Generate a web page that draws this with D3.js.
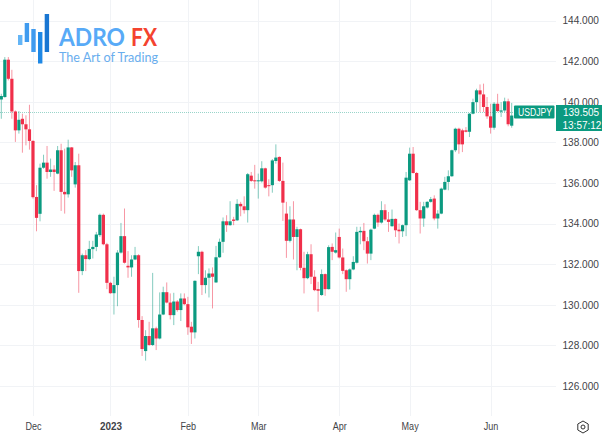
<!DOCTYPE html>
<html><head><meta charset="utf-8">
<style>html,body{margin:0;padding:0;background:#fff}svg{display:block}</style>
<script src="https://cdn.jsdelivr.net/npm/d3@7/dist/d3.min.js"></script>
</head><body><div id="c"></div>
<script>
const priceTicks=[126,128,130,132,134,136,138,140,142,144];
const monthLabels=["Dec","2023","Feb","Mar","Apr","May","Jun"];
const monthIndex=[9,31,53,73,96,116,139];
const symbol="USDJPY", lastPrice=139.505, countdown="13:57:12";
const opens=[140.11,140.23,142.07,141.13,139.52,138.59,139.16,138.89,138.64,138.07,
135.31,134.48,136.75,137.00,136.54,136.66,136.46,137.61,135.56,135.44,
137.75,135.93,136.87,131.66,132.44,132.25,132.74,132.85,133.43,134.43,
132.98,131.08,130.57,130.97,132.57,133.38,131.92,131.84,132.23,132.44,
129.25,127.72,128.46,128.02,128.84,128.34,129.52,130.62,130.11,129.49,
130.16,129.74,130.31,130.03,128.92,128.64,132.39,132.61,130.97,131.33,
131.54,131.10,132.34,133.10,134.11,133.92,134.20,134.16,134.97,134.85,
134.66,136.36,136.13,136.08,136.08,136.72,135.89,135.89,137.08,137.28,
136.10,134.49,133.15,134.20,133.34,133.72,131.82,131.31,132.49,131.38,
130.77,130.48,131.51,130.77,132.85,132.57,133.34,132.33,131.70,131.26,
131.74,132.07,133.57,133.64,133.13,132.52,133.75,134.43,134.05,134.66,
134.20,133.87,134.23,133.70,133.62,133.92,136.13,137.44,136.49,134.66,
134.25,134.79,135.07,135.23,134.25,134.49,135.67,136.05,136.33,137.61,
138.67,138.59,138.59,138.52,139.41,139.98,140.56,140.36,139.74,139.28,
138.72,139.90,139.51,139.57,140.02,138.82];
const closes=[140.28,142.07,141.13,139.52,138.59,139.11,138.89,138.64,138.07,135.30,
134.28,136.75,137.00,136.54,136.66,136.54,137.61,135.56,135.44,137.75,
136.62,136.87,131.66,132.44,132.25,132.75,132.85,133.46,134.43,132.98,
131.08,130.57,130.97,132.57,133.38,132.07,131.84,132.23,132.44,129.25,
127.82,128.46,128.02,128.84,128.34,129.52,130.62,130.11,129.49,130.16,
129.74,130.31,130.03,128.89,128.64,131.18,132.61,130.97,131.33,131.54,
131.38,132.34,133.10,134.11,133.92,134.11,134.13,134.97,134.85,134.66,
136.43,136.10,136.08,136.13,136.72,135.77,135.84,137.11,137.25,136.10,
135.03,133.15,134.20,133.34,133.72,131.82,131.31,132.49,131.38,130.72,
130.69,131.51,130.77,132.84,132.61,132.69,132.33,131.67,131.26,131.74,
132.11,133.59,133.64,133.13,132.52,133.70,134.43,134.05,134.66,134.20,
134.08,134.23,133.67,133.62,133.92,136.26,137.44,136.49,134.66,134.25,
134.85,135.07,135.20,134.25,134.49,135.72,136.05,136.33,137.61,138.67,
137.90,137.90,138.52,139.41,139.98,140.56,140.36,139.74,139.28,138.72,
139.90,139.54,139.57,140.02,138.89,139.32];
const highs=[140.39,142.20,142.20,141.57,139.57,139.54,139.41,139.33,139.85,138.10,
135.89,136.95,137.39,137.82,137.20,136.87,137.82,137.93,137.69,138.13,
137.77,137.03,137.44,132.52,132.69,133.15,133.15,133.59,134.49,134.49,
133.05,131.13,131.38,132.69,134.03,134.74,132.64,132.44,132.85,132.49,
129.44,128.75,129.16,131.57,128.92,130.61,130.89,131.10,130.56,130.59,
130.23,130.56,130.56,130.39,129.16,131.20,132.89,132.66,131.70,131.79,
131.84,132.90,133.26,134.30,134.41,135.10,134.33,135.20,135.07,135.34,
136.49,136.54,136.89,136.46,137.07,136.75,136.18,137.18,137.90,137.31,
137.00,135.07,134.85,135.10,133.84,133.75,132.61,132.61,132.98,131.70,
131.13,131.74,131.54,132.93,133.02,133.56,133.75,132.77,131.74,131.79,
132.39,133.84,133.84,134.03,133.34,133.75,134.49,134.49,135.10,134.95,
134.57,134.69,134.25,134.00,133.95,136.54,137.74,137.77,136.54,135.07,
135.07,135.10,135.31,135.39,134.66,135.77,136.30,136.62,137.64,138.72,
138.72,138.67,138.75,139.44,140.15,140.64,140.85,140.89,140.23,139.90,
139.98,140.39,139.98,140.20,140.15,139.94];
const lows=[139.16,140.20,141.05,139.16,138.02,138.43,137.49,137.85,137.64,135.23,
133.62,134.11,136.70,136.21,136.30,135.61,136.43,134.62,134.49,135.28,
136.30,135.77,130.59,131.46,131.66,132.20,132.28,132.64,133.34,132.93,
130.77,130.54,129.52,129.93,132.52,132.03,131.33,131.38,132.20,128.87,
127.48,127.25,127.98,127.97,127.77,128.30,129.49,130.07,129.28,129.00,
129.66,129.20,129.98,128.52,128.07,128.34,131.51,130.48,130.56,130.36,
129.82,131.08,132.31,132.56,133.59,133.89,133.92,134.13,134.36,134.49,
134.05,136.05,135.72,135.23,136.02,135.72,135.34,135.52,136.95,136.05,
134.13,132.31,133.07,132.23,131.70,131.70,130.56,131.26,131.02,130.67,
129.66,130.44,130.44,130.75,132.20,132.52,132.28,131.51,130.64,130.75,
131.70,132.03,132.98,132.69,132.03,132.20,133.72,133.84,134.00,134.13,
133.59,133.84,133.34,133.02,133.34,133.38,136.10,136.46,134.62,133.51,
133.84,134.74,135.03,134.16,133.75,134.46,135.64,135.64,136.30,137.52,
137.44,137.52,138.49,138.26,139.38,139.49,139.49,139.49,139.16,138.43,
138.62,139.49,139.25,139.49,138.79,138.72];

const W=602,H=440,GREEN="#0b9a80",RED="#f02f4a",GRID="#f1f3f6",TEXT="#3f4348";
const FONT="'Liberation Sans',Arial,sans-serif";
const svg=d3.select("#c").append("svg").attr("width",W).attr("height",H).style("font-family",FONT);
const x=d3.scaleLinear().domain([0,145]).range([1.3,511.7]);
const y=d3.scaleLinear().domain([126,144]).range([386,20.5]);
const plotRight=556, plotBottom=416;
const squeeze=(sel,k)=>sel.each(function(){
  d3.select(this).attr("textLength",this.getComputedTextLength()*k).attr("lengthAdjust","spacingAndGlyphs");
});

const g=svg.append("g");
g.selectAll("line.hg").data(priceTicks).join("line").attr("class","hg")
 .attr("x1",0).attr("x2",plotRight).attr("y1",d=>Math.round(y(d))+.5).attr("y2",d=>Math.round(y(d))+.5)
 .attr("stroke",GRID);
g.selectAll("line.vg").data(monthIndex).join("line").attr("class","vg")
 .attr("y1",0).attr("y2",plotBottom).attr("x1",d=>Math.round(x(d))+.5).attr("x2",d=>Math.round(x(d))+.5)
 .attr("stroke",GRID);

// Logo
const bars=[[18,35,4.4,10,"#64b5f6"],[24.7,23,4.4,19,"#3f9bef"],[31.3,29,4.4,23,"#3f9bef"],[38,32,4.4,31.5,"#1e88e5"],[44.7,14,4.4,38,"#1976d2"]];
const logo=svg.append("g");
logo.selectAll("rect").data(bars).join("rect").attr("x",d=>d[0]).attr("y",d=>d[1]).attr("width",d=>d[2]).attr("height",d=>d[3]).attr("fill",d=>d[4]);
const logoText=(tx,ty,size,weight,len,fill,s)=>logo.append("text").attr("x",tx).attr("y",ty).attr("font-family","Lato").attr("font-weight",weight).attr("font-size",size).attr("textLength",len).attr("lengthAdjust","spacingAndGlyphs").attr("fill",fill).text(s);
logoText(59,45.5,24,700,66,"#58aaf7","ADRO");
logoText(131,45.5,24,700,26,"#f4432f","FX");
logoText(59,62,14,400,99,"#69aeee","The Art of Trading");

// Last price line
svg.append("line").attr("x1",0).attr("x2",514).attr("y1",Math.round(y(lastPrice))+.5).attr("y2",Math.round(y(lastPrice))+.5)
 .attr("stroke",GREEN).attr("stroke-opacity",.42).attr("stroke-dasharray","1 1");

// Candles
const candles=d3.range(opens.length).map(i=>({i,o:opens[i],h:highs[i],l:lows[i],c:closes[i]}));
const cg=svg.append("g");
cg.selectAll("line").data(candles).join("line")
 .attr("x1",d=>x(d.i)).attr("x2",d=>x(d.i)).attr("y1",d=>y(d.h)).attr("y2",d=>y(d.l))
 .attr("stroke",d=>d.c>=d.o?GREEN:RED).attr("stroke-opacity",.5).attr("stroke-width",1);
cg.selectAll("rect").data(candles).join("rect")
 .attr("x",d=>x(d.i)-1.6).attr("width",3.2)
 .attr("y",d=>y(Math.max(d.o,d.c))).attr("height",d=>Math.max(1,Math.abs(y(d.o)-y(d.c))))
 .attr("fill",d=>d.c>=d.o?GREEN:RED);

// Axes
const ya=d3.axisRight(y).tickValues(priceTicks).tickFormat(d3.format(".3f")).tickSize(0).tickPadding(0);
const yg=svg.append("g").attr("transform","translate(562.5,0)").call(ya);
yg.select(".domain").remove();
yg.selectAll("text").attr("font-size",10.5).attr("font-family",FONT).attr("fill",TEXT);
squeeze(yg.selectAll("text"),.96);
const xa=d3.axisBottom(x).tickValues(monthIndex).tickFormat((d,i)=>monthLabels[i]).tickSize(0).tickPadding(0);
const xg=svg.append("g").attr("transform","translate(0,422)").call(xa);
xg.select(".domain").remove();
xg.selectAll("text").attr("font-size",11).attr("font-family",FONT).attr("fill",TEXT)
 .attr("font-weight",d=>d===31?700:400);
xg.selectAll("text").each(function(d){squeeze(d3.select(this),d===31?.9:.82);});

// Last-price tags
svg.append("rect").attr("x",514).attr("y",105.5).attr("width",40.5).attr("height",13).attr("rx",1).attr("fill",GREEN);
svg.append("rect").attr("x",556).attr("y",105).attr("width",46).attr("height",26).attr("fill",GREEN);
const tag=(tx,ty,s)=>svg.append("text").attr("x",tx).attr("y",ty).attr("font-size",10).attr("fill","#fff").text(s);
squeeze(tag(518,116,symbol),.86);
tag(563,116,d3.format(".3f")(lastPrice));
tag(562.5,128.5,countdown);

// Gear icon
const gear=svg.append("g").attr("transform","translate(583,427)");
gear.append("path").attr("d",d3.line()(d3.range(6).map(k=>[6*Math.cos(Math.PI/6+k*Math.PI/3),6*Math.sin(Math.PI/6+k*Math.PI/3)]))+"Z").attr("fill","none").attr("stroke","#333").attr("stroke-width",1);
gear.append("circle").attr("r",2).attr("fill","none").attr("stroke","#333").attr("stroke-width",1);
</script></body></html>
